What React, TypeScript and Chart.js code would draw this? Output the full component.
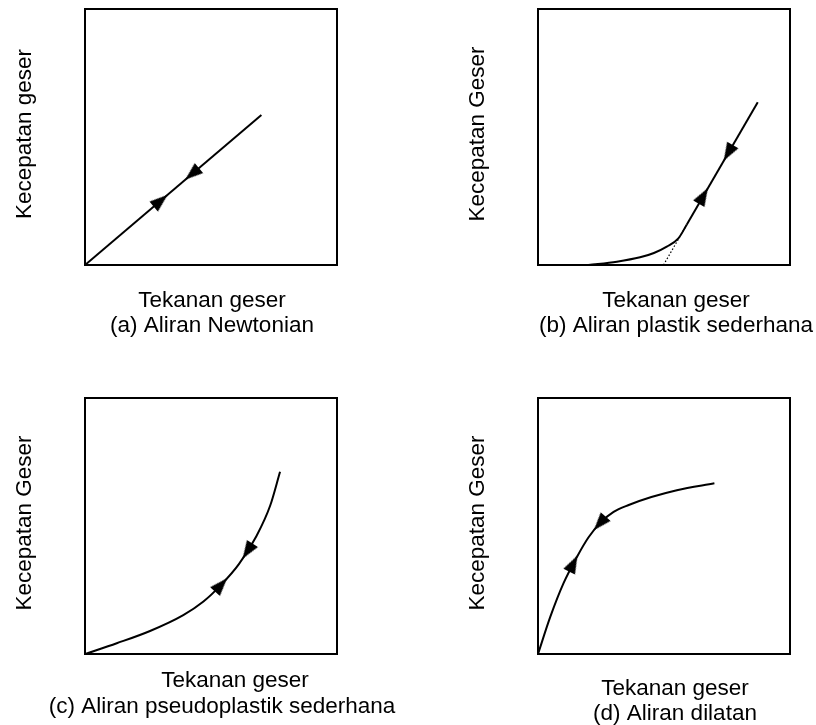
import React, { useEffect, useRef } from "react";
import { Chart, registerables } from "chart.js";

Chart.register(...registerables);

// ---------- (a) Aliran Newtonian ----------
const aLineX = [0, 0.7];
const aLineY = [0, 0.586];
const aArrowX = [0.3, 0.425];
const aArrowY = [0.251, 0.356];
const aArrowRot = [50, 230];

// ---------- (b) Aliran plastik sederhana ----------
const bCurveX = [0.2, 0.313, 0.405, 0.46, 0.511, 0.557, 0.59];
const bCurveY = [0, 0.013, 0.03, 0.047, 0.072, 0.104, 0.157];
const bLineX = [0.59, 0.872];
const bLineY = [0.157, 0.636];
const bDotX = [0.498, 0.59];
const bDotY = [0, 0.157];
const bArrowX = [0.656, 0.755];
const bArrowY = [0.27, 0.438];
const bArrowRot = [30, 210];

// ---------- (c) Aliran pseudoplastik sederhana ----------
const cCurveX = [0, 0.126, 0.258, 0.39, 0.47, 0.54, 0.61, 0.68, 0.735, 0.774];
const cCurveY = [0, 0.042, 0.09, 0.152, 0.205, 0.27, 0.35, 0.46, 0.58, 0.712];
const cArrowX = [0.54, 0.645];
const cArrowY = [0.27, 0.402];
const cArrowRot = [42, 213];

// ---------- (d) Aliran dilatan ----------
const dCurveX = [0, 0.049, 0.101, 0.155, 0.2, 0.25, 0.3, 0.36, 0.45, 0.551, 0.7];
const dCurveY = [0, 0.146, 0.276, 0.38, 0.455, 0.515, 0.555, 0.582, 0.613, 0.64, 0.667];
const dArrowX = [0.14, 0.245];
const dArrowY = [0.353, 0.51];
const dArrowRot = [27, 221];

// ---------- text ----------
const xAxisLabel = "Tekanan geser";
const yLabelA = "Kecepatan geser";
const yLabelB = "Kecepatan Geser";
const captions = [
  "(a) Aliran Newtonian",
  "(b) Aliran plastik sederhana",
  "(c) Aliran pseudoplastik sederhana",
  "(d) Aliran dilatan",
];

const FONT = '22.5px "Liberation Sans", Arial, Helvetica, sans-serif';

const pts = (xs: number[], ys: number[]) => xs.map((x, i) => ({ x, y: ys[i] }));

type Line = { text: string; dx: number; dy: number };
type PanelCfg = {
  left: number;
  top: number;
  width: number;
  height: number;
  padding: { left: number; top: number; right: number; bottom: number };
  curves: { xs: number[]; ys: number[]; smooth: boolean; dotted?: boolean }[];
  arrows: { xs: number[]; ys: number[]; rot: number[] };
  yTitle: string;
  lines: Line[];
};

const panels: PanelCfg[] = [
  {
    left: 0,
    top: 0,
    width: 408,
    height: 362,
    padding: { left: 85, top: 9, right: 71, bottom: 97 },
    curves: [{ xs: aLineX, ys: aLineY, smooth: false }],
    arrows: { xs: aArrowX, ys: aArrowY, rot: aArrowRot },
    yTitle: yLabelA,
    lines: [
      { text: xAxisLabel, dx: 1, dy: 42 },
      { text: captions[0], dx: 1, dy: 67 },
    ],
  },
  {
    left: 408,
    top: 0,
    width: 408,
    height: 362,
    padding: { left: 130, top: 9, right: 26, bottom: 97 },
    curves: [
      { xs: bDotX, ys: bDotY, smooth: false, dotted: true },
      { xs: bCurveX, ys: bCurveY, smooth: true },
      { xs: bLineX, ys: bLineY, smooth: false },
    ],
    arrows: { xs: bArrowX, ys: bArrowY, rot: bArrowRot },
    yTitle: yLabelB,
    lines: [
      { text: xAxisLabel, dx: 12, dy: 42 },
      { text: captions[1], dx: 12, dy: 67 },
    ],
  },
  {
    left: 0,
    top: 362,
    width: 408,
    height: 363,
    padding: { left: 85, top: 36, right: 71, bottom: 71 },
    curves: [{ xs: cCurveX, ys: cCurveY, smooth: true }],
    arrows: { xs: cArrowX, ys: cArrowY, rot: cArrowRot },
    yTitle: yLabelB,
    lines: [
      { text: xAxisLabel, dx: 24, dy: 33 },
      { text: captions[2], dx: 11, dy: 59 },
    ],
  },
  {
    left: 408,
    top: 362,
    width: 408,
    height: 363,
    padding: { left: 130, top: 36, right: 26, bottom: 71 },
    curves: [{ xs: dCurveX, ys: dCurveY, smooth: true }],
    arrows: { xs: dArrowX, ys: dArrowY, rot: dArrowRot },
    yTitle: yLabelB,
    lines: [
      { text: xAxisLabel, dx: 11, dy: 41 },
      { text: captions[3], dx: 11, dy: 66 },
    ],
  },
];

function makeArrowHead(): HTMLCanvasElement {
  const c = document.createElement("canvas");
  c.width = 14;
  c.height = 18;
  const g = c.getContext("2d")!;
  g.fillStyle = "#000";
  g.beginPath();
  g.moveTo(7, 0);
  g.lineTo(13.5, 18);
  g.lineTo(0.5, 18);
  g.closePath();
  g.fill();
  return c;
}

const hiddenAxis = (position: string) => ({
  type: "linear" as const,
  position,
  display: true,
  min: 0,
  max: 1,
  ticks: { display: false },
  grid: { display: false, drawTicks: false },
  border: { display: true, color: "#000", width: 2 },
  title: { display: false },
});

function Panel({ cfg }: { cfg: PanelCfg }) {
  const ref = useRef<HTMLCanvasElement | null>(null);
  useEffect(() => {
    if (!ref.current) return;
    const arrowImg = makeArrowHead();
    const datasets: any[] = cfg.curves.map((c) => ({
      data: pts(c.xs, c.ys),
      showLine: true,
      borderColor: "#000",
      borderWidth: c.dotted ? 1.2 : 2,
      borderDash: c.dotted ? [1.5, 2] : [],
      pointRadius: 0,
      fill: false,
      tension: c.smooth ? 0.4 : 0,
      cubicInterpolationMode: c.smooth ? "monotone" : "default",
      borderCapStyle: "butt",
    }));
    datasets.push({
      data: pts(cfg.arrows.xs, cfg.arrows.ys),
      showLine: false,
      pointStyle: arrowImg,
      pointRadius: 6,
      pointRotation: cfg.arrows.rot,
      pointBackgroundColor: "#000",
      pointBorderColor: "#000",
    });
    const textPlugin = {
      id: "panelText",
      afterDraw(chart: any) {
        const { ctx, chartArea: a } = chart;
        ctx.save();
        ctx.fillStyle = "#000";
        ctx.font = FONT;
        ctx.save();
        ctx.translate(a.left - 54, (a.top + a.bottom) / 2 - 3);
        ctx.rotate(-Math.PI / 2);
        ctx.textAlign = "center";
        ctx.textBaseline = "alphabetic";
        ctx.fillText(cfg.yTitle, 0, 0);
        ctx.restore();
        ctx.textAlign = "center";
        ctx.textBaseline = "alphabetic";
        cfg.lines.forEach((l) => {
          ctx.fillText(l.text, (a.left + a.right) / 2 + l.dx, a.bottom + l.dy);
        });
        ctx.restore();
      },
    };
    const chart = new Chart(ref.current, {
      type: "scatter",
      data: { datasets },
      options: {
        responsive: false,
        animation: false,
        events: [],
        layout: { padding: cfg.padding },
        plugins: { legend: { display: false }, tooltip: { enabled: false } },
        scales: {
          x: hiddenAxis("bottom"),
          y: hiddenAxis("left"),
          x2: hiddenAxis("top"),
          y2: hiddenAxis("right"),
        } as any,
      },
      plugins: [textPlugin],
    });
    return () => chart.destroy();
  }, [cfg]);
  return (
    <canvas
      ref={ref}
      width={cfg.width}
      height={cfg.height}
      style={{
        position: "absolute",
        left: cfg.left,
        top: cfg.top,
        width: cfg.width,
        height: cfg.height,
      }}
    />
  );
}

export default function App() {
  return (
    <div
      style={{
        position: "absolute",
        left: 0,
        top: 0,
        width: 816,
        height: 725,
        background: "#fff",
      }}
    >
      {panels.map((p, i) => (
        <Panel key={i} cfg={p} />
      ))}
    </div>
  );
}
